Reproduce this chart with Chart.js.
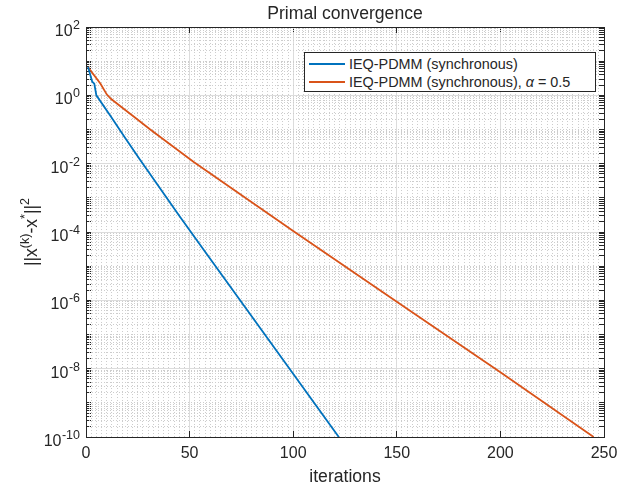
<!DOCTYPE html>
<html>
<head>
<meta charset="utf-8">
<title>Primal convergence</title>
<script src="https://cdn.jsdelivr.net/npm/chart.js@4.4.0/dist/chart.umd.min.js"></script>
<style>
  html, body { margin: 0; padding: 0; background: #fff; }
  #wrap { position: relative; width: 641px; height: 488px; }
  #legend {
    position: absolute; left: 304px; top: 52px; width: 290px; height: 38px;
    border: 1px solid #262626; background: #fff;
    font: 14.4px "Liberation Sans", Arial, sans-serif; color: #262626;
  }
  .row { position: absolute; left: 4px; height: 18px; line-height: 18px; white-space: nowrap; }
  .swatch { display: inline-block; width: 36px; height: 2px; vertical-align: middle; margin-right: 4px; position: relative; top: -1px; }
</style>
</head>
<body>
<div id="wrap">
  <canvas id="convChart" width="641" height="488"></canvas>
  <div id="legend">
    <div class="row" style="top:2px"><span class="swatch" style="background:#0072BD"></span>IEQ-PDMM (synchronous)</div>
    <div class="row" style="top:20px"><span class="swatch" style="background:#D95319"></span>IEQ-PDMM (synchronous), <i>α</i> = 0.5</div>
  </div>
</div>
<script>
// values
const blueIter = [1, 3, 4, 5, 12, 19, 26, 45, 56, 122];
const blueErr = [6.8, 2.5, 2.2, 1.0, 0.24, 0.055, 0.0132, 3.0e-4, 3.5e-5, 1e-10];

const orangeIter = [1, 2, 7, 10, 12, 18, 23, 31, 52, 100, 150, 200, 245];
const orangeErr = [6.8, 5.5, 2.19, 1.07, 0.79, 0.41, 0.24, 0.1, 0.0112, 1.07e-4, 9.1e-7, 7.9e-9, 1e-10];

const xTicks = [0, 50, 100, 150, 200, 250];
const xMinorStep = 2.5;
const yExponents = [-10, -9, -8, -7, -6, -5, -4, -3, -2, -1, 0, 1, 2];
const yLabelExponents = [-10, -8, -6, -4, -2, 0, 2];

const FONT = '"Liberation Sans", Arial, Helvetica, sans-serif';
const TEXT = '#262626';
const MAJOR_GRID = '#dcdcdc';
const MINOR_GRID = '#cdcdcd';
const NONE = 'rgba(0,0,0,0)';

function logTicks() {
    const ticks = [];
    yExponents.forEach(e => {
        const top = e === yExponents[yExponents.length - 1] ? 1 : 9;
        for (let m = 1; m <= top; m++) {
            ticks.push({ value: Number(m + 'e' + e), major: m === 1 && e % 2 === 0 });
        }
    });
    return ticks;
}

function minorXTicks() {
    const ticks = [];
    for (let v = 0; v <= 250; v += xMinorStep) {
        ticks.push({ value: v, major: xTicks.includes(v) });
    }
    return ticks;
}

const isMajor = c => c.tick && c.tick.major;

const labelsPlugin = {
    id: 'labels',
    afterDraw(chart) {
        const ctx = chart.ctx;
        const area = chart.chartArea;
        const y = chart.scales.y;
        ctx.save();
        ctx.fillStyle = TEXT;

        // title
        ctx.font = '17.6px ' + FONT;
        ctx.textAlign = 'center';
        ctx.textBaseline = 'middle';
        ctx.fillText('Primal convergence', (area.left + area.right) / 2, 14);

        // y tick labels 10^n
        ctx.textBaseline = 'alphabetic';
        yLabelExponents.forEach(e => {
            const py = y.getPixelForValue(Math.pow(10, e));
            const exp = String(e);
            ctx.font = '12.5px ' + FONT;
            ctx.textAlign = 'right';
            const ew = ctx.measureText(exp).width;
            ctx.fillText(exp, 80, py + 2);
            ctx.font = '16px ' + FONT;
            ctx.fillText('10', 80 - ew - 0.5, py + 9);
        });

        // y axis title ||x^(k)-x^*||^2
        const parts = [
            ['||x', false], ['(k)', true], ['-x', false], ['*', true], ['||', false], ['2', true]
        ];
        ctx.translate(37, (area.top + area.bottom) / 2);
        ctx.rotate(-Math.PI / 2);
        ctx.textAlign = 'left';
        let total = 0;
        parts.forEach(p => {
            ctx.font = (p[1] ? '12.5px ' : '17.6px ') + FONT;
            total += ctx.measureText(p[0]).width;
        });
        let px = -total / 2;
        parts.forEach(p => {
            ctx.font = (p[1] ? '12.5px ' : '17.6px ') + FONT;
            ctx.fillText(p[0], px, p[1] ? -8 : 0);
            px += ctx.measureText(p[0]).width;
        });
        ctx.restore();
    }
};

const ctx = document.getElementById('convChart').getContext('2d');
const convChart = new Chart(ctx, {
    type: 'line',
    data: {
        datasets: [{
            label: 'IEQ-PDMM (synchronous)',
            data: blueIter.map((x, i) => ({ x: x, y: blueErr[i] })),
            borderColor: '#0072BD',
            borderWidth: 1.8,
            pointRadius: 0,
            tension: 0,
            xAxisID: 'x',
            yAxisID: 'y'
        }, {
            label: 'IEQ-PDMM (synchronous), α = 0.5',
            data: orangeIter.map((x, i) => ({ x: x, y: orangeErr[i] })),
            borderColor: '#D95319',
            borderWidth: 1.8,
            pointRadius: 0,
            tension: 0,
            xAxisID: 'x',
            yAxisID: 'y'
        }]
    },
    options: {
        responsive: false,
        animation: false,
        devicePixelRatio: 1,
        layout: { padding: { left: 0, right: 37, top: 27, bottom: 0 } },
        plugins: {
            legend: { display: false },
            tooltip: { enabled: false },
            title: { display: false }
        },
        scales: {
            x: {
                type: 'linear',
                position: 'bottom',
                min: 0,
                max: 250,
                afterBuildTicks: s => { s.ticks = xTicks.map(v => ({ value: v, major: true })); },
                afterFit: s => { s.height = 51; },
                grid: { color: MAJOR_GRID, tickColor: TEXT, tickLength: -6 },
                border: { display: true, color: TEXT, width: 1 },
                ticks: { font: { family: FONT, size: 16 }, color: TEXT, padding: 13, maxRotation: 0, autoSkip: false },
                title: {
                    display: true,
                    text: 'iterations',
                    font: { family: FONT, size: 17.6 },
                    color: TEXT,
                    padding: { top: 0, bottom: 0 }
                }
            },
            xTop: {
                type: 'linear',
                position: 'top',
                min: 0,
                max: 250,
                afterBuildTicks: s => { s.ticks = minorXTicks(); },
                afterFit: s => { s.height = 0; },
                ticks: { display: false, autoSkip: false },
                grid: {
                    color: c => isMajor(c) ? NONE : MINOR_GRID,
                    tickColor: c => isMajor(c) ? TEXT : NONE,
                    tickLength: -6
                },
                border: { display: true, color: TEXT, width: 1, dash: [1, 2] }
            },
            y: {
                type: 'logarithmic',
                position: 'left',
                min: 1e-10,
                max: 100,
                afterBuildTicks: s => { s.ticks = logTicks(); },
                afterFit: s => { s.width = 86; },
                ticks: { display: false, autoSkip: false },
                grid: {
                    color: c => isMajor(c) ? MAJOR_GRID : NONE,
                    tickColor: TEXT,
                    tickLength: -5
                },
                border: { display: true, color: TEXT, width: 1 }
            },
            yRight: {
                type: 'logarithmic',
                position: 'right',
                min: 1e-10,
                max: 100,
                afterBuildTicks: s => { s.ticks = logTicks(); },
                afterFit: s => { s.width = 0; },
                ticks: { display: false, autoSkip: false },
                grid: {
                    color: c => isMajor(c) ? NONE : MINOR_GRID,
                    tickColor: TEXT,
                    tickLength: -5
                },
                border: { display: true, color: TEXT, width: 1, dash: [1, 2] }
            }
        }
    },
    plugins: [labelsPlugin]
});
</script>
</body>
</html>
